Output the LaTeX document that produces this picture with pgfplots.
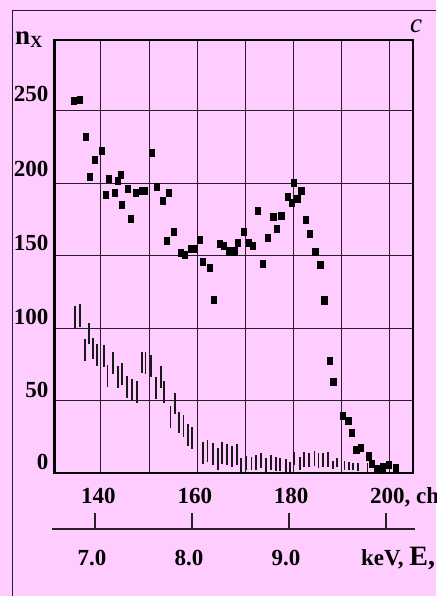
\documentclass[border=0pt]{standalone}
\usepackage{pgfplots}
\pgfplotsset{compat=1.18}
\usepackage{fontspec}
\setmainfont{Liberation Serif}
\definecolor{bgpink}{RGB}{255,204,255}
\definecolor{gridc}{RGB}{40,30,40}
\begin{document}
\begin{tikzpicture}[x=1pt,y=1pt]
\fill[bgpink] (0,0) rectangle (436,596);
\draw[line width=1pt, gridc] (12,0) -- (12,585.3) -- (436,585.3);
\begin{axis}[
  at={(54.5pt,123pt)}, anchor=south west,
  scale only axis, width=358.5pt, height=433pt,
  xmin=130.35, xmax=204.8, ymin=0, ymax=299,
  axis line style={line width=2.2pt, black},
  grid=major, grid style={line width=1pt, gridc},
  major tick length=0pt,
  xtick={140,150,...,200},
  xticklabels={140,,160,,180,,200\rlap{, ch}},
  ytick={0,50,...,250},
  yticklabels={\raisebox{3pt}{0},\raisebox{3.3pt}{50},\raisebox{4pt}{100},\raisebox{5pt}{150},\raisebox{7.3pt}{200},\raisebox{9.3pt}{250}},
  tick label style={font=\fontsize{23}{27}\selectfont\bfseries, inner sep=0pt},
  xticklabel style={anchor=base, yshift=-31pt, xshift=-2.5pt},
  yticklabel style={anchor=base east, xshift=-6pt},
  clip=false,
]
\addplot[only marks, mark=square*, mark size=3.6pt, mark options={draw=none, fill=black, xscale=0.7}] coordinates {
(134.25,257.1) (135.5,257.8) (136.74,232.3) (137.57,204.6) (138.61,216.4)
(140.07,222.6) (140.9,192.2) (141.52,203.2) (142.76,193.6) (143.39,201.9)
(144.01,206.0) (144.22,185.3) (145.46,196.3) (146.09,175.6) (147.12,193.6)
(148.45,195.0) (149.14,195.0) (150.45,221.2) (151.48,197.5) (152.73,188.1)
(153.97,193.6) (153.56,160.4) (155.1,166.6) (156.46,152.1) (157.44,150.6)
(158.62,154.9) (159.52,154.9) (160.41,161.1) (161.03,145.9) (162.49,141.8)
(163.32,119.7) (164.56,158.4) (165.54,156.8) (166.51,153.1) (167.68,153.1)
(168.3,159.0) (169.55,166.4) (170.58,159.0) (171.41,156.8) (172.45,181.1)
(173.49,144.5) (174.53,162.5) (175.77,177.0) (176.4,168.7) (177.43,177.7)
(178.68,190.8) (179.51,186.7) (180.07,200.5) (180.75,189.2) (181.58,195.0)
(182.42,174.9) (183.25,165.3) (184.49,152.8) (185.53,143.6) (186.36,119.3)
(187.4,77.6) (188.23,63.1) (190.1,39.6) (191.34,36.3) (191.97,27.8)
(193.0,15.9) (194.0,17.5) (195.5,11.6) (196.3,6.6) (197.36,3.2)
(198.6,4.0) (199.85,5.9) (201.3,3.7)
};
\addplot[draw=none, no markers, error bars/.cd, y dir=both, y explicit,
  error mark=none, error bar style={line width=1.8pt, draw=black!90, solid}] coordinates {
(134.67,107.7) +- (0,7.9)
(135.58,108.8) +- (0,7.75)
(136.68,84.9) +- (0,7.6)
(137.45,96.4) +- (0,7.35)
(138.34,86.0) +- (0,7.5)
(139.24,81.3) +- (0,7.6)
(140.56,81.0) +- (0,7.6)
(141.35,67.3) +- (0,7.6)
(142.49,75.8) +- (0,7.6)
(143.47,66.3) +- (0,7.6)
(144.43,68.2) +- (0,7.6)
(145.34,59.6) +- (0,7.6)
(146.44,57.6) +- (0,7.35)
(147.41,56.0) +- (0,7.5)
(148.51,76.3) +- (0,7.45)
(149.24,76.0) +- (0,7.6)
(150.32,73.7) +- (0,7.6)
(151.42,58.7) +- (0,7.6)
(152.4,66.3) +- (0,7.6)
(153.08,56.0) +- (0,7.5)
(154.43,38.6) +- (0,7.7)
(155.3,47.7) +- (0,7.3)
(156.15,34.8) +- (0,7.5)
(157.13,32.3) +- (0,7.6)
(158.02,26.1) +- (0,7.5)
(158.85,24.3) +- (0,7.5)
(160.04,22.8) +- (0,7.4)
(161.18,13.9) +- (0,7.65)
(162.11,15.5) +- (0,7.6)
(163.25,13.1) +- (0,7.6)
(164.29,9.6) +- (0,7.5)
(165.18,14.0) +- (0,7.55)
(166.12,12.8) +- (0,7.25)
(167.16,11.2) +- (0,7.4)
(168.2,12.6) +- (0,7.4)
(169.07,5.8) +- (0,4.8)
(170.21,6.9) +- (0,4.8)
(171.25,6.4) +- (0,4.65)
(172.18,7.35) +- (0,4.95)
(173.16,8.45) +- (0,5.2)
(174.26,5.8) +- (0,4.8)
(175.34,7.25) +- (0,4.95)
(176.29,6.3) +- (0,4.9)
(177.16,5.95) +- (0,4.55)
(178.41,5.5) +- (0,4.5)
(179.3,4.35) +- (0,3.35)
(180.13,10.0) +- (0,4.8)
(181.32,6.55) +- (0,4.45)
(182.15,9.5) +- (0,5.2)
(183.16,8.95) +- (0,5.05)
(184.33,10.0) +- (0,5.2)
(185.16,8.65) +- (0,4.95)
(186.03,9.25) +- (0,4.9)
(187.11,9.3) +- (0,4.95)
(188.17,5.85) +- (0,2.75)
(189.04,7.25) +- (0,2.9)
(190.59,5.35) +- (0,3.25)
(191.49,4.95) +- (0,2.85)
(192.32,4.6) +- (0,2.5)
(193.4,3.95) +- (0,2.75)
(195.33,3.85) +- (0,2.85)
};
\end{axis}
\begin{axis}[
  at={(52pt,67pt)}, anchor=south west,
  scale only axis, width=363pt, height=20pt,
  xmin=6.557, xmax=10.299, ymin=0, ymax=1,
  axis x line*=bottom, axis y line=none,
  xtick={7,8,9,10}, xticklabels={7.0,8.0,9.0,},
  tick align=inside, major tick length=16pt,
  axis line style={line width=1.5pt, gridc},
  tick style={line width=1.3pt, gridc},
  tick label style={font=\fontsize{23}{27}\selectfont\bfseries, inner sep=0pt},
  xticklabel style={anchor=base, yshift=-37pt, xshift=-3pt},
  clip=false,
]
\addplot[draw=none, forget plot] coordinates {(7,0.5) (10,0.5)};
\end{axis}
\node[anchor=base west, inner sep=0pt, font=\fontsize{23}{27}\selectfont\bfseries] at (361,30) {keV, {\fontsize{28}{30}\selectfont E,}};
\node[anchor=base west, inner sep=0pt] at (15,551) {\fontsize{27}{30}\selectfont\bfseries n\raisebox{-3pt}{\fontsize{17}{20}\selectfont X}};
\node[anchor=base, inner sep=0pt] at (416,563) {\fontsize{27}{30}\selectfont\itshape c};
\pgfresetboundingbox
\useasboundingbox (0,0) rectangle (436,596);
\end{tikzpicture}
\end{document}
